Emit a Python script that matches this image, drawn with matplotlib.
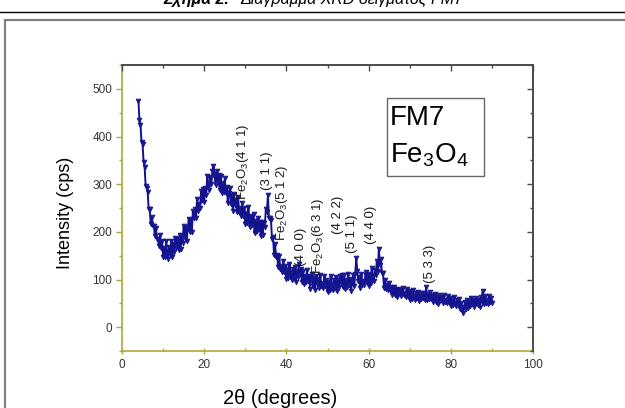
import numpy as np
import matplotlib
matplotlib.use("Agg")
import matplotlib.pyplot as plt
from matplotlib.lines import Line2D
from matplotlib.patches import Rectangle
from matplotlib.ticker import MultipleLocator

plt.rcParams['font.family'] = ['Liberation Sans', 'DejaVu Sans']
plt.rcParams['mathtext.fontset'] = 'custom'
plt.rcParams['mathtext.rm'] = 'Liberation Sans'
plt.rcParams['mathtext.it'] = 'Liberation Sans:italic'

# XRD scan of sample FM7: 2theta from 4 deg in 0.25 deg steps (counts per second)
theta_start = 4.0
theta_step = 0.25
intensity = [
    474, 434, 424, 389, 384, 347, 337, 297, 292, 283, 247, 247, 216, 232, 213, 213, 191, 208, 185, 186,
    170, 194, 166, 180, 147, 167, 147, 180, 156, 144, 169, 154, 181, 147, 174, 158, 187, 169, 186, 162,
    194, 164, 191, 177, 212, 188, 208, 180, 208, 227, 200, 225, 200, 243, 229, 247, 228, 268, 244, 259,
    251, 286, 266, 290, 263, 292, 278, 318, 298, 287, 316, 300, 328, 339, 318, 299, 327, 305, 319, 288,
    317, 282, 303, 283, 312, 282, 295, 260, 281, 293, 259, 277, 244, 279, 257, 267, 241, 273, 242, 249,
    234, 261, 234, 251, 217, 239, 218, 252, 226, 210, 234, 214, 238, 197, 222, 201, 229, 206, 221, 191,
    221, 194, 218, 210, 248, 241, 277, 229, 228, 225, 184, 189, 152, 174, 147, 151, 126, 150, 123, 128,
    116, 139, 116, 129, 102, 121, 104, 133, 113, 100, 121, 105, 126, 95, 118, 105, 133, 112, 121, 95,
    118, 90, 108, 94, 119, 96, 108, 81, 101, 111, 87, 103, 78, 108, 92, 102, 82, 110, 86, 93,
    83, 107, 86, 100, 74, 94, 78, 108, 89, 77, 98, 84, 106, 75, 98, 84, 108, 93, 109, 84,
    109, 81, 99, 85, 111, 89, 102, 76, 97, 109, 87, 112, 145, 118, 97, 105, 83, 112, 89, 97,
    89, 115, 95, 111, 86, 107, 92, 124, 106, 96, 120, 110, 139, 118, 165, 130, 142, 114, 114, 83,
    100, 80, 89, 79, 93, 77, 85, 68, 79, 85, 68, 78, 63, 81, 71, 77, 65, 82, 67, 72,
    64, 80, 66, 76, 58, 71, 60, 78, 65, 58, 71, 62, 74, 55, 68, 59, 72, 61, 71, 57,
    84, 58, 69, 59, 74, 60, 68, 52, 63, 70, 53, 64, 49, 67, 57, 64, 51, 68, 53, 58,
    50, 66, 52, 62, 44, 57, 46, 64, 51, 44, 56, 47, 59, 39, 51, 41, 29, 43, 53, 38,
    56, 40, 53, 45, 62, 48, 57, 42, 54, 62, 46, 58, 43, 63, 53, 75, 48, 65, 51, 56,
    49, 65, 52, 62, 51,
]
two_theta = theta_start + theta_step * np.arange(len(intensity))

# Reflection labels: text, 2theta position, intensity where the label starts
peak_labels = [
    "Fe$_2$O$_3$(4 1 1)", "(3 1 1)", "Fe$_2$O$_3$(5 1 2)", "(4 0 0)",
    "Fe$_2$O$_3$(6 3 1)", "(4 2 2)", "(5 1 1)", "(4 4 0)", "(5 3 3)",
]
peak_x = [29.4, 35.3, 39.0, 43.5, 47.7, 52.5, 56.0, 60.6, 75.0]
peak_y = [266, 287, 181, 129, 112, 196, 156, 175, 93]

x_ticks = [0, 20, 40, 60, 80, 100]
y_ticks = [0, 100, 200, 300, 400, 500]

W, H = 625, 408
fig = plt.figure(figsize=(W / 100, H / 100), dpi=100)
fig.patch.set_facecolor('white')

# caption line and page frame
fig.text(163 / W, 1 - 4 / H, "Σχήμα 2.", fontsize=11.5, fontweight='bold',
         fontstyle='italic', ha='left', va='baseline')
fig.text(240 / W, 1 - 4 / H, "Διάγραμμα XRD δείγματος FM7", fontsize=11.5,
         fontstyle='italic', ha='left', va='baseline')
fig.add_artist(Line2D([0, 1], [1 - 12 / H] * 2, color='black', lw=1.0,
                      transform=fig.transFigure))
fig.add_artist(Rectangle((5 / W, -0.2), 2.0, (1 - 20 / H) + 0.2, fill=False,
                         edgecolor='#808080', lw=1.6, transform=fig.transFigure,
                         clip_on=False))

olive = '#b0a838'
dark = '#4a4a4a'

ax = fig.add_axes([122 / W, 1 - 351 / H, 411 / W, 286 / H])
ax.plot(two_theta, intensity, color='#12128c', lw=1.4, marker='v',
        markersize=3.4, markeredgewidth=0.6, markerfacecolor='#1c1c96')
ax.set_xlim(0, 100)
ax.set_ylim(-50, 550)
ax.set_xticks(x_ticks)
ax.set_yticks(y_ticks)
ax.xaxis.set_minor_locator(MultipleLocator(10))
ax.yaxis.set_minor_locator(MultipleLocator(50))

for side in ['left', 'bottom']:
    ax.spines[side].set_color(olive)
    ax.spines[side].set_linewidth(1.2)
for side in ['top', 'right']:
    ax.spines[side].set_visible(False)

ax.tick_params(axis='y', which='major', direction='out', length=4, width=1,
               color=olive, labelsize=8.5, labelcolor='#333333', pad=3)
ax.tick_params(axis='y', which='minor', direction='out', length=2.5, width=1,
               color=olive)
ax.tick_params(axis='x', which='major', direction='inout', length=5, width=1,
               color=olive, labelsize=8.5, labelcolor='#333333', pad=3)
ax.tick_params(axis='x', which='minor', direction='in', length=2.5, width=1,
               color=olive)

# top and right frame with inward ticks
axt = ax.twiny()
axt.set_xlim(ax.get_xlim())
axt.set_xticks(x_ticks)
axt.xaxis.set_minor_locator(MultipleLocator(10))
axt.tick_params(axis='x', which='major', direction='in', length=4, width=1,
                color=dark, labeltop=False)
axt.tick_params(axis='x', which='minor', direction='in', length=2.5, width=1,
                color=dark)
axr = ax.twinx()
axr.set_ylim(ax.get_ylim())
axr.set_yticks(y_ticks)
axr.yaxis.set_minor_locator(MultipleLocator(50))
axr.tick_params(axis='y', which='major', direction='in', length=4, width=1,
                color=dark, labelright=False)
axr.tick_params(axis='y', which='minor', direction='in', length=2.5, width=1,
                color=dark)
for a in (axt, axr):
    for side in ['left', 'bottom']:
        a.spines[side].set_visible(False)
    for side in ['top', 'right']:
        a.spines[side].set_color(dark)
        a.spines[side].set_linewidth(1.2)

for txt, px, py in zip(peak_labels, peak_x, peak_y):
    ax.text(px, py, txt, rotation=90, ha='center', va='bottom',
            fontsize=9.5, color='#1a1a1a')

# sample legend box
ax.add_patch(Rectangle(((387 - 122) / 411, (351 - 176) / 286), 97 / 411, 78 / 286,
                       transform=ax.transAxes, fill=False, edgecolor='#666666',
                       lw=1.0))
ax.text((390 - 122) / 411, (351 - 125) / 286, "FM7", transform=ax.transAxes,
        fontsize=20, ha='left', va='baseline')
ax.text((390 - 122) / 411, (351 - 162) / 286, "Fe$_3$O$_4$", transform=ax.transAxes,
        fontsize=20, ha='left', va='baseline')

fig.text(65.5 / W, 1 - 213 / H, "Intensity (cps)", rotation=90, fontsize=13,
         ha='center', va='center')
fig.text(280 / W, 1 - 399 / H, "2θ (degrees)", fontsize=14.5,
         ha='center', va='center')

fig.savefig("out.png", dpi=100)
